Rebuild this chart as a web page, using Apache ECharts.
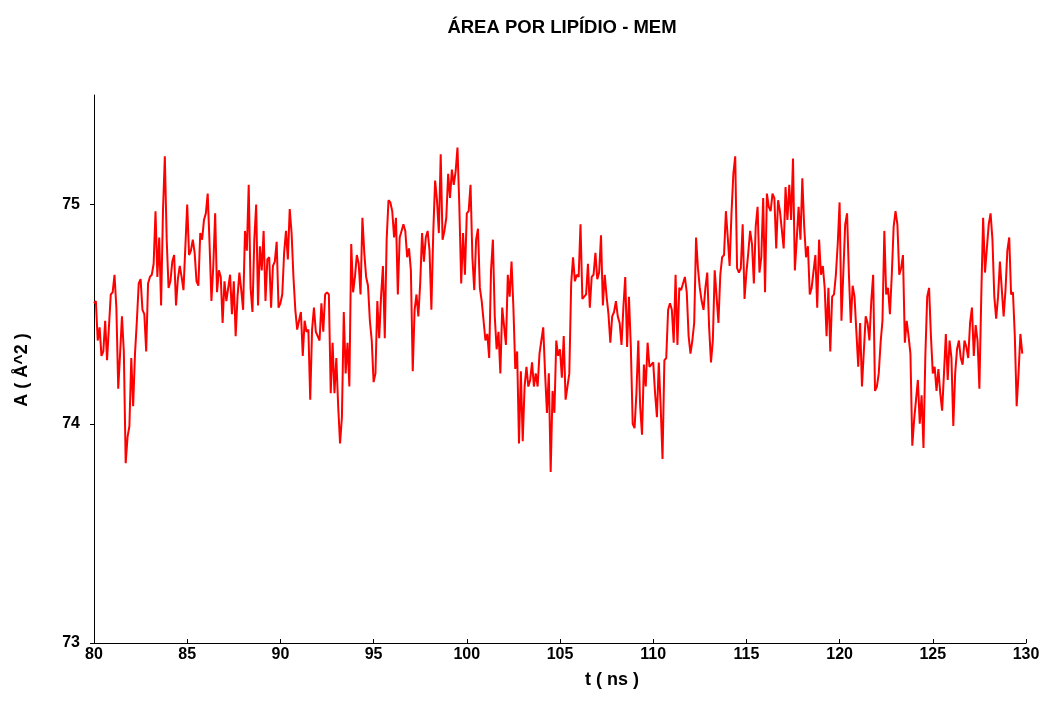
<!DOCTYPE html>
<html>
<head>
<meta charset="utf-8">
<title>Área por lipídio - MEM</title>
<script src="https://cdn.jsdelivr.net/npm/echarts@6/dist/echarts.min.js"></script>
<style>
  html, body { margin: 0; padding: 0; background: #fff; }
  #chart { width: 1045px; height: 718px; }
</style>
</head>
<body>
<div id="chart"></div>
<script>
// Area per lipid (Å^2) sampled every 0.1 ns, from t = 80 ns.
const T_START = 80;
const T_STEP = 0.1;
const area = [
  74.55, 74.56, 74.38, 74.44, 74.31, 74.33, 74.47, 74.29, 74.44, 74.59,
  74.60, 74.68, 74.53, 74.16, 74.32, 74.49, 74.33, 73.82, 73.94, 73.99,
  74.30, 74.08, 74.32, 74.47, 74.64, 74.66, 74.52, 74.50, 74.33, 74.64,
  74.67, 74.68, 74.73, 74.97, 74.67, 74.85, 74.54, 74.97, 75.22, 74.84,
  74.62, 74.65, 74.74, 74.77, 74.54, 74.66, 74.72, 74.67, 74.61, 74.61,
  75.00, 74.77, 74.79, 74.84, 74.78, 74.65, 74.63, 74.87, 74.84, 74.93,
  74.96, 75.05, 74.82, 74.56, 74.72, 74.96, 74.60, 74.70, 74.67, 74.46,
  74.65, 74.56, 74.56, 74.68, 74.50, 74.65, 74.40, 74.58, 74.69, 74.61,
  74.52, 74.88, 74.79, 75.09, 74.62, 74.51, 74.84, 75.00, 74.54, 74.81,
  74.70, 74.88, 74.56, 74.75, 74.76, 74.53, 74.72, 74.74, 74.83, 74.53,
  74.55, 74.59, 74.78, 74.88, 74.75, 74.98, 74.87, 74.67, 74.52, 74.43,
  74.47, 74.51, 74.31, 74.47, 74.42, 74.43, 74.11, 74.43, 74.53, 74.42,
  74.40, 74.38, 74.55, 74.42, 74.59, 74.60, 74.59, 74.14, 74.37, 74.14,
  74.30, 74.08, 73.91, 74.03, 74.51, 74.23, 74.37, 74.17, 74.82, 74.60,
  74.67, 74.77, 74.73, 74.59, 74.94, 74.78, 74.67, 74.63, 74.47, 74.38,
  74.19, 74.23, 74.56, 74.39, 74.58, 74.72, 74.39, 74.84, 75.02, 75.01,
  74.97, 74.85, 74.94, 74.59, 74.85, 74.88, 74.91, 74.88, 74.76, 74.80,
  74.70, 74.24, 74.52, 74.59, 74.49, 74.64, 74.87, 74.74, 74.85, 74.88,
  74.79, 74.52, 74.87, 75.11, 75.02, 74.87, 75.23, 74.84, 74.88, 74.94,
  75.14, 75.03, 75.16, 75.09, 75.15, 75.26, 74.99, 74.64, 74.87, 74.68,
  74.96, 74.97, 75.09, 74.76, 74.61, 74.84, 74.89, 74.62, 74.56, 74.47,
  74.38, 74.41, 74.30, 74.70, 74.84, 74.49, 74.34, 74.42, 74.23, 74.53,
  74.53, 74.36, 74.68, 74.58, 74.74, 74.53, 74.25, 74.33, 73.91, 74.24,
  73.92, 74.17, 74.26, 74.17, 74.20, 74.28, 74.17, 74.23, 74.17, 74.32,
  74.38, 74.44, 74.23, 74.05, 74.23, 73.78, 74.15, 74.05, 74.38, 74.31,
  74.34, 74.21, 74.40, 74.11, 74.17, 74.23, 74.64, 74.76, 74.65, 74.68,
  74.67, 74.91, 74.57, 74.58, 74.59, 74.73, 74.53, 74.67, 74.68, 74.78,
  74.66, 74.69, 74.86, 74.54, 74.68, 74.58, 74.50, 74.37, 74.49, 74.51,
  74.56, 74.49, 74.46, 74.36, 74.53, 74.67, 74.35, 74.58, 74.35, 74.00,
  73.98, 74.14, 74.38, 74.08, 73.95, 74.27, 74.17, 74.37, 74.26, 74.27,
  74.28, 74.14, 74.03, 74.28, 74.08, 73.84, 74.29, 74.30, 74.52, 74.55,
  74.52, 74.37, 74.68, 74.36, 74.62, 74.61, 74.61, 74.67, 74.60, 74.40,
  74.32, 74.38, 74.46, 74.85, 74.71, 74.62, 74.56, 74.52, 74.62, 74.69,
  74.44, 74.28, 74.38, 74.70, 74.58, 74.46, 74.68, 74.76, 74.77, 74.97,
  74.85, 74.72, 74.96, 75.14, 75.22, 74.71, 74.69, 74.71, 74.91, 74.57,
  74.69, 74.78, 74.88, 74.82, 74.64, 74.90, 74.99, 74.69, 74.76, 75.03,
  74.60, 75.05, 74.99, 74.97, 75.05, 75.03, 74.80, 75.02, 74.97, 74.97,
  74.80, 75.08, 74.93, 75.09, 74.93, 75.21, 74.70, 74.84, 74.99, 74.84,
  75.12, 74.90, 74.76, 74.81, 74.59, 74.62, 74.62, 74.77, 74.53, 74.84,
  74.68, 74.72, 74.62, 74.40, 74.62, 74.33, 74.58, 74.59, 74.68, 74.82,
  75.01, 74.47, 74.47, 74.91, 74.96, 74.68, 74.46, 74.63, 74.58, 74.58,
  74.26, 74.46, 74.17, 74.17, 74.49, 74.46, 74.38, 74.56, 74.68, 74.15,
  74.17, 74.23, 74.37, 74.47, 74.88, 74.59, 74.62, 74.50, 74.68, 74.90,
  74.97, 74.91, 74.68, 74.71, 74.77, 74.37, 74.47, 74.40, 74.32, 73.90,
  74.02, 74.11, 74.20, 74.00, 74.13, 73.89, 74.31, 74.58, 74.62, 74.40,
  74.23, 74.26, 74.15, 74.25, 74.14, 74.06, 74.23, 74.41, 74.20, 74.38,
  74.30, 73.99, 74.23, 74.34, 74.38, 74.30, 74.27, 74.38, 74.35, 74.30,
  74.46, 74.53, 74.31, 74.45, 74.38, 74.16, 74.58, 74.94, 74.69, 74.69,
  74.91, 74.96, 74.84, 74.58, 74.48, 74.58, 74.74, 74.74, 74.49, 74.61,
  74.79, 74.85, 74.59, 74.60, 74.40, 74.08, 74.23, 74.41, 74.32
];

// Axis ticks
const xTicks = [80, 85, 90, 95, 100, 105, 110, 115, 120, 125, 130];
const yTicks = [73, 74, 75];

const TITLE = 'ÁREA POR LIPÍDIO - MEM';
const X_NAME = 't ( ns )';
const Y_NAME = 'A ( Å^2 )';

const FONT = '"Liberation Sans", Arial, Helvetica, sans-serif';

// (time, area) pairs for the line
const points = area.map((v, i) => [+(T_START + i * T_STEP).toFixed(1), v]);

const chart = echarts.init(document.getElementById('chart'), null, { renderer: 'canvas' });

chart.setOption({
  backgroundColor: '#ffffff',
  animation: false,
  title: {
    text: TITLE,
    left: 562,
    top: 18,
    padding: 0,
    textAlign: 'center',
    textStyle: { fontFamily: FONT, fontWeight: 'bold', fontSize: 18.5, color: '#000' }
  },
  grid: { left: 94, right: 19, top: 95, bottom: 75, containLabel: false },
  xAxis: {
    type: 'value',
    min: xTicks[0],
    max: xTicks[xTicks.length - 1],
    interval: 5,
    axisLine: { show: true, lineStyle: { color: '#000', width: 1 } },
    axisTick: { show: true, inside: true, length: 4, lineStyle: { color: '#000' }, customValues: xTicks },
    axisLabel: {
      customValues: xTicks,
      margin: 4,
      fontFamily: FONT, fontWeight: 'bold', fontSize: 16, color: '#000'
    },
    splitLine: { show: false }
  },
  yAxis: {
    type: 'value',
    min: 73,
    max: 75.5,
    interval: 1,
    axisLine: { show: true, lineStyle: { color: '#000', width: 1 } },
    axisTick: { show: true, length: 4, lineStyle: { color: '#000' }, customValues: yTicks },
    axisLabel: {
      customValues: yTicks,
      margin: 14,
      fontFamily: FONT, fontWeight: 'bold', fontSize: 16, color: '#000'
    },
    splitLine: { show: false }
  },
  graphic: [
    {
      type: 'text',
      x: 612, y: 680,
      style: {
        text: X_NAME, font: 'bold 18px ' + FONT, fill: '#000',
        align: 'center', verticalAlign: 'middle'
      }
    },
    {
      type: 'text',
      x: 22, y: 370,
      rotation: Math.PI / 2,
      style: {
        text: Y_NAME, font: 'bold 18px ' + FONT, fill: '#000',
        align: 'center', verticalAlign: 'middle'
      }
    }
  ],
  series: [{
    type: 'line',
    data: points,
    showSymbol: false,
    symbol: 'none',
    lineStyle: { color: '#ff0000', width: 2 },
    emphasis: { disabled: true }
  }]
});
</script>
</body>
</html>
